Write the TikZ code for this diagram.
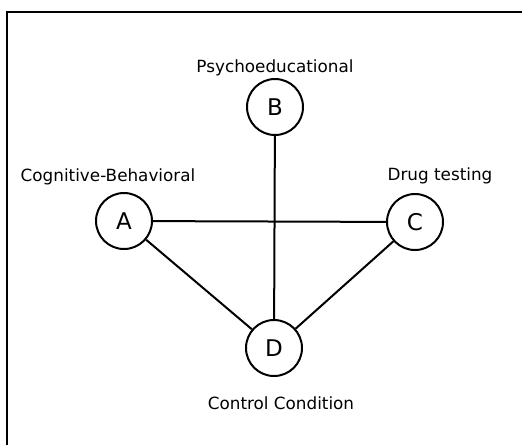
\documentclass[tikz,border=0pt]{standalone}
\usepackage{fontspec}
\setmainfont{DejaVu Sans}
\begin{document}
\begin{tikzpicture}[x=1pt,y=-1pt,
  state/.style={circle,draw,line width=2pt,minimum size=56pt,inner sep=0pt,font=\fontsize{23}{26}\selectfont},
  caption/.style={font=\fontsize{16.8}{19}\selectfont,inner sep=0pt},
  link/.style={line width=2pt}]
\useasboundingbox (0,0) rectangle (522,445);
% open frame: top and left sides only
\draw[line width=2pt] (7,445) -- (7,11.5) -- (522,11.5);
% groups
\node[state] (B) at (275,107) {B};
\node[state] (A) at (124,221) {A};
\node[state] (C) at (415,222) {C};
\node[state] (D) at (274,348) {D};
% group names
\node[caption] (lb) at (275,68) {Psychoeducational};
\node[caption] (la) at (108,177) {Cognitive-Behavioral};
\node[caption] (lc) at (440,176) {Drug testing};
\node[caption] (ld) at (281,403) {Control Condition};
% comparisons
\draw[link] (A) -- (C);
\draw[link] (B) -- (D);
\draw[link] (A) -- (D);
\draw[link] (C) -- (D);
\end{tikzpicture}
\end{document}
